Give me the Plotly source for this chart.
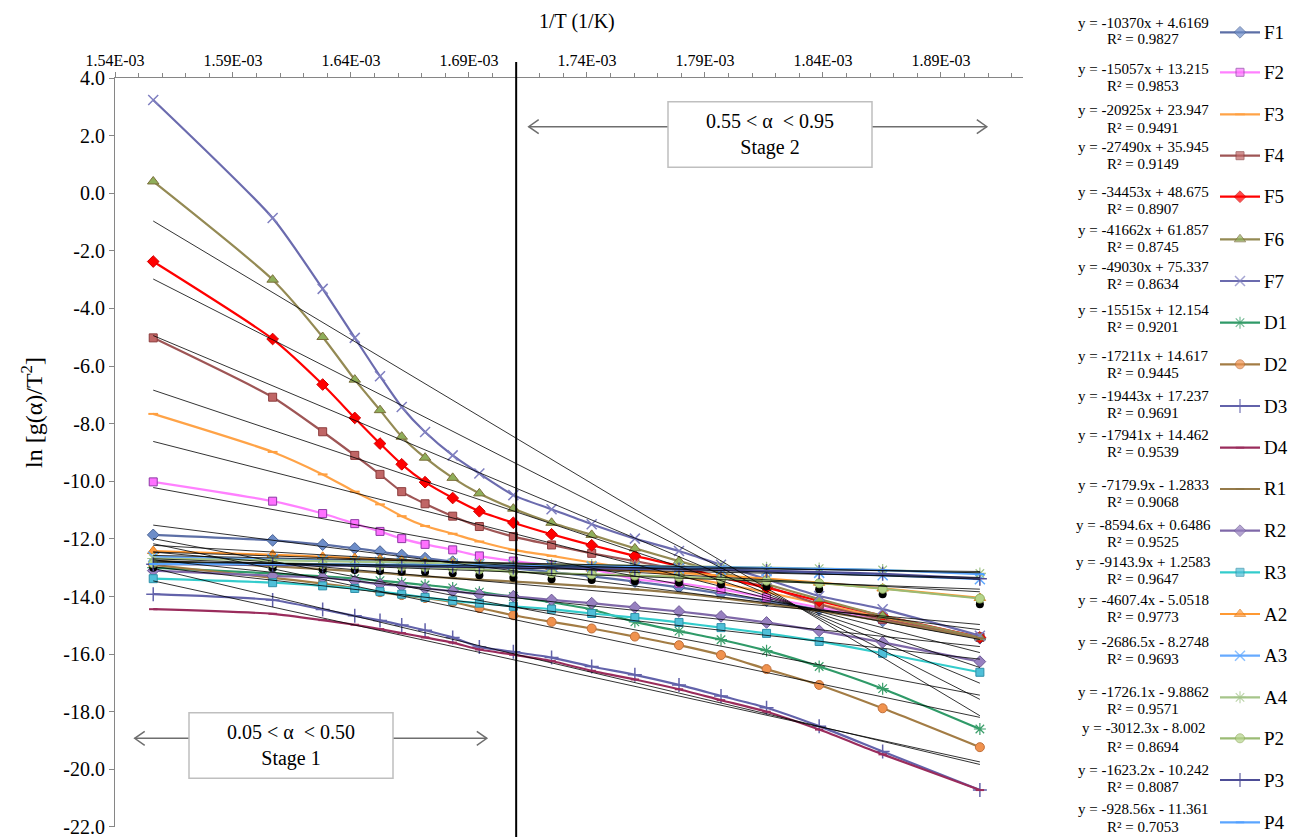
import plotly.graph_objects as go

W, H = 1299, 837

# ---------------- data ----------------
inv_T = [1.5562e-3, 1.6068e-3, 1.6280e-3, 1.6416e-3, 1.6523e-3, 1.6615e-3, 1.6714e-3,
         1.6831e-3, 1.6944e-3, 1.7088e-3, 1.7250e-3, 1.7420e-3, 1.7603e-3, 1.7790e-3,
         1.7968e-3, 1.8161e-3, 1.8384e-3, 1.8653e-3, 1.9065e-3]

F1 = [-11.86, -12.05, -12.20, -12.33, -12.44, -12.56, -12.67, -12.79, -12.90, -13.02,
      -13.15, -13.30, -13.48, -13.68, -13.90, -14.15, -14.45, -14.85, -15.45]
F2 = [-10.02, -10.69, -11.12, -11.47, -11.74, -11.99, -12.19, -12.38, -12.59, -12.77,
      -12.91, -13.05, -13.40, -13.54, -13.75, -14.03, -14.38, -14.80, -15.40]
F3 = [-7.66, -8.98, -9.76, -10.36, -10.80, -11.21, -11.55, -11.82, -12.09, -12.38,
      -12.59, -12.82, -13.05, -13.30, -13.55, -13.85, -14.25, -14.75, -15.40]
F4 = [-5.02, -7.08, -8.28, -9.10, -9.76, -10.36, -10.78, -11.21, -11.57, -11.92,
      -12.21, -12.50, -12.77, -13.06, -13.35, -13.65, -14.27, -14.79, -15.42]
F5 = [-2.37, -5.06, -6.64, -7.80, -8.69, -9.41, -10.03, -10.58, -11.04, -11.44,
      -11.84, -12.22, -12.59, -12.94, -13.34, -13.69, -14.15, -14.67, -15.42]
F6 = [0.41, -3.00, -4.99, -6.47, -7.53, -8.45, -9.18, -9.88, -10.42, -10.95,
      -11.44, -11.86, -12.33, -12.77, -13.17, -13.57, -14.09, -14.67, -15.42]
F7 = [3.24, -0.86, -3.32, -5.02, -6.35, -7.42, -8.29, -9.10, -9.73, -10.48,
      -10.97, -11.49, -11.99, -12.42, -12.90, -13.40, -13.98, -14.44, -15.36]
D1 = [-13.00, -13.20, -13.30, -13.38, -13.45, -13.52, -13.60, -13.70, -13.85, -14.00,
      -14.20, -14.45, -14.88, -15.20, -15.50, -15.88, -16.43, -17.20, -18.60]
D2 = [-12.90, -13.35, -13.55, -13.70, -13.85, -13.95, -14.05, -14.20, -14.40, -14.65,
      -14.88, -15.11, -15.39, -15.69, -16.03, -16.52, -17.07, -17.88, -19.23]
D3 = [-13.92, -14.12, -14.45, -14.67, -14.83, -14.99, -15.17, -15.42, -15.75, -15.92,
      -16.12, -16.43, -16.72, -17.07, -17.45, -17.86, -18.50, -19.38, -20.72]
D4 = [-14.44, -14.60, -14.82, -14.98, -15.13, -15.27, -15.42, -15.60, -15.84, -16.02,
      -16.24, -16.58, -16.88, -17.22, -17.60, -18.00, -18.62, -19.48, -20.72]
R1 = [-12.75, -12.95, -13.05, -13.12, -13.18, -13.24, -13.30, -13.36, -13.42, -13.48,
      -13.56, -13.65, -13.75, -13.88, -14.05, -14.25, -14.50, -14.85, -15.45]
R2 = [-13.10, -13.28, -13.34, -13.46, -13.57, -13.63, -13.72, -13.81, -13.92, -13.99,
      -14.12, -14.23, -14.38, -14.52, -14.69, -14.90, -15.19, -15.59, -16.26]
R3 = [-13.38, -13.52, -13.63, -13.72, -13.83, -13.92, -14.03, -14.15, -14.23, -14.34,
      -14.44, -14.59, -14.73, -14.90, -15.08, -15.28, -15.56, -15.97, -16.63]
A2 = [-12.42, -12.55, -12.62, -12.67, -12.71, -12.75, -12.79, -12.83, -12.87, -12.92,
      -12.97, -13.03, -13.10, -13.18, -13.27, -13.38, -13.52, -13.72, -14.05]
A3 = [-12.62, -12.70, -12.74, -12.77, -12.80, -12.82, -12.84, -12.86, -12.88, -12.90,
      -12.93, -12.96, -12.99, -13.03, -13.07, -13.12, -13.18, -13.26, -13.40]
A4 = [-12.68, -12.74, -12.77, -12.79, -12.80, -12.82, -12.83, -12.84, -12.86, -12.87,
      -12.89, -12.91, -12.93, -12.95, -12.97, -13.00, -13.03, -13.08, -13.20]
P2 = [-12.85, -12.84, -12.88, -12.90, -12.93, -12.96, -12.98, -13.01, -13.06, -13.14,
      -13.19, -13.23, -13.27, -13.32, -13.38, -13.45, -13.54, -13.73, -14.07]
P3 = [-12.88, -12.90, -12.92, -12.93, -12.94, -12.95, -12.96, -12.97, -12.98, -12.99,
      -13.00, -13.02, -13.04, -13.06, -13.08, -13.11, -13.15, -13.21, -13.38]
P4 = [-12.87, -12.87, -12.88, -12.89, -12.90, -12.90, -12.91, -12.92, -12.92, -12.93,
      -12.94, -12.95, -12.96, -12.97, -12.99, -13.01, -13.04, -13.08, -13.22]
# black markers seen just below the P2 points
P2_black = [-13.00, -13.00, -13.06, -13.08, -13.11, -13.14, -13.15, -13.19, -13.26, -13.35,
            -13.40, -13.43, -13.47, -13.52, -13.58, -13.65, -13.75, -13.92, -14.27]

names = ["F1", "F2", "F3", "F4", "F5", "F6", "F7", "D1", "D2", "D3", "D4",
         "R1", "R2", "R3", "A2", "A3", "A4", "P2", "P3", "P4"]
values = [F1, F2, F3, F4, F5, F6, F7, D1, D2, D3, D4, R1, R2, R3, A2, A3, A4, P2, P3, P4]

slopes = [-10370, -15057, -20925, -27490, -34453, -41662, -49030, -15515, -17211, -19443,
          -17941, -7179.9, -8594.6, -9143.9, -4607.4, -2686.5, -1726.1, -3012.3, -1623.2, -928.56]
intercepts = [4.6169, 13.215, 23.947, 35.945, 48.675, 61.857, 75.337, 12.154, 14.617, 17.237,
              14.462, -1.2833, 0.6486, 1.2583, -5.0518, -8.2748, -9.8862, -8.002, -10.242, -11.361]
r_squared = ["0.9827", "0.9853", "0.9491", "0.9149", "0.8907", "0.8745", "0.8634", "0.9201",
             "0.9445", "0.9691", "0.9539", "0.9068", "0.9525", "0.9647", "0.9773", "0.9693",
             "0.9571", "0.8694", "0.8087", "0.7053"]
eq_text = ["y = -10370x + 4.6169", "y = -15057x + 13.215", "y = -20925x + 23.947",
           "y = -27490x + 35.945", "y = -34453x + 48.675", "y = -41662x + 61.857",
           "y = -49030x + 75.337", "y = -15515x + 12.154", "y = -17211x + 14.617",
           "y = -19443x + 17.237", "y = -17941x + 14.462", "y = -7179.9x - 1.2833",
           "y = -8594.6x + 0.6486", "y = -9143.9x + 1.2583", "y = -4607.4x - 5.0518",
           "y = -2686.5x - 8.2748", "y = -1726.1x - 9.8862", "y = -3012.3x - 8.002",
           "y = -1623.2x - 10.242", "y = -928.56x - 11.361"]

x_tickvals = [1.54e-3, 1.59e-3, 1.64e-3, 1.69e-3, 1.74e-3, 1.79e-3, 1.84e-3, 1.89e-3]
x_ticktext = ["1.54E-03", "1.59E-03", "1.64E-03", "1.69E-03", "1.74E-03",
              "1.79E-03", "1.84E-03", "1.89E-03"]
y_tickvals = [4, 2, 0, -2, -4, -6, -8, -10, -12, -14, -16, -18, -20, -22]
y_ticktext = ["4.0", "2.0", "0.0", "-2.0", "-4.0", "-6.0", "-8.0", "-10.0", "-12.0",
              "-14.0", "-16.0", "-18.0", "-20.0", "-22.0"]
stage_boundary = 1.710e-3

# ---------------- styles ----------------
SERIF = "Liberation Serif, Times New Roman, serif"
styles = {
    "F1": dict(lc="#5C6FA6", sym="diamond", ms=9, mc="#6D8DC8", mlc="#4A6396", mlw=1),
    "F2": dict(lc="#FF80FF", sym="square", ms=8, mc="#FF70FF", mlc="#8E3AA5", mlw=1),
    "F3": dict(lc="#FFA347", sym="line-ew", ms=7, mc="#FF9F3F", mlc="#FF9F3F", mlw=2),
    "F4": dict(lc="#9E5555", sym="square", ms=8, mc="#C06666", mlc="#8C3C3C", mlw=1),
    "F5": dict(lc="#FF0000", sym="diamond", ms=9, mc="#FF0000", mlc="#D00000", mlw=1),
    "F6": dict(lc="#948A54", sym="triangle-up", ms=10, mc="#8FAE5A", mlc="#7A6E3A", mlw=1),
    "F7": dict(lc="#6B6BAE", sym="x-thin", ms=10, mc="#7F7FC0", mlc="#7F7FC0", mlw=1.5),
    "D1": dict(lc="#2F9A68", sym="asterisk", ms=10, mc="#3A9E6A", mlc="#3A9E6A", mlw=1.2),
    "D2": dict(lc="#A37C44", sym="circle", ms=9, mc="#F0924E", mlc="#C0703A", mlw=1),
    "D3": dict(lc="#6262AA", sym="cross-thin", ms=10, mc="#6262AA", mlc="#6262AA", mlw=1.5),
    "D4": dict(lc="#9A2C5C", sym="line-ew", ms=6, mc="#9A2C5C", mlc="#9A2C5C", mlw=2),
    "R1": dict(lc="#957A4A", sym="line-ew", ms=6, mc="#8C7444", mlc="#8C7444", mlw=2),
    "R2": dict(lc="#7F68A8", sym="diamond", ms=9, mc="#9780C0", mlc="#6E5A96", mlw=1),
    "R3": dict(lc="#33CCCC", sym="square", ms=8, mc="#4FBFD8", mlc="#2E8FA8", mlw=1),
    "A2": dict(lc="#FF9933", sym="triangle-up", ms=10, mc="#FF9A3C", mlc="#E07F20", mlw=1),
    "A3": dict(lc="#66AAFF", sym="x-thin", ms=10, mc="#5EA8FF", mlc="#5EA8FF", mlw=1.5),
    "A4": dict(lc="#A6C58A", sym="asterisk", ms=10, mc="#A3C48A", mlc="#A3C48A", mlw=1.2),
    "P2": dict(lc="#9BBB74", sym="circle", ms=9, mc="#B5D48A", mlc="#93B060", mlw=1),
    "P3": dict(lc="#4D4D96", sym="cross-thin", ms=10, mc="#4D4D96", mlc="#4D4D96", mlw=1.5),
    "P4": dict(lc="#5AA5FF", sym="line-ew", ms=6, mc="#4F9FFF", mlc="#4F9FFF", mlw=2),
}

# layout positions (pixels)
PLOT_L, PLOT_R, PLOT_T, PLOT_B = 115, 1023.3, 78, 827
legend_eq_y = [22.7, 69.3, 110, 146.7, 192.3, 230, 266.7, 310, 356, 396,
               435, 485, 525, 561.7, 600, 642.3, 691.7, 728.3, 770, 809.3]
legend_r2_y = [39, 86, 128.3, 164.3, 209, 247.3, 284.3, 326.7, 373.3, 413.3,
               451.7, 502.3, 542.3, 579.3, 617.3, 659.3, 709, 746.7, 786.7, 826.7]
legend_sym_y = [32.3, 72.3, 114.3, 155.7, 196.7, 239.3, 281, 322.7, 364.3, 406,
                447.7, 489, 530.7, 572.3, 614, 655.7, 697.3, 738.3, 780, 822.3]


def px(x):
    return x / W


def py(y):
    return 1 - y / H


fig = go.Figure()

# data series
for name, vals in zip(names, values):
    s = styles[name]
    if name == "P2":
        fig.add_trace(go.Scatter(
            x=inv_T, y=P2_black, mode="markers", showlegend=False, hoverinfo="skip",
            marker=dict(symbol="circle", size=8, color="black")))
    fig.add_trace(go.Scatter(
        x=inv_T, y=vals, name=name, mode="lines+markers",
        line=dict(color=s["lc"], width=2.2, shape="spline", smoothing=0.6),
        marker=dict(symbol=s["sym"], size=s["ms"], color=s["mc"],
                    line=dict(color=s["mlc"], width=s["mlw"]))))

# linear trendlines from the printed equations
for name, m, b in zip(names, slopes, intercepts):
    xs = [inv_T[0], inv_T[-1]]
    fig.add_trace(go.Scatter(
        x=xs, y=[m * xv + b for xv in xs], mode="lines", showlegend=False,
        hoverinfo="skip", line=dict(color="rgba(0,0,0,0.8)", width=1)))

# legend samples (drawn on a pixel-space overlay axis)
for i, name in enumerate(names):
    s = styles[name]
    yy = legend_sym_y[i]
    fig.add_trace(go.Scatter(
        x=[1220, 1240, 1260], y=[yy, yy, yy], xaxis="x2", yaxis="y2",
        mode="lines+markers", showlegend=False, hoverinfo="skip",
        line=dict(color=s["lc"], width=2.2),
        marker=dict(symbol=s["sym"], size=[0, s["ms"], 0], color=s["mc"],
                    line=dict(color=s["mlc"], width=s["mlw"]))))

annotations = []
for i, name in enumerate(names):
    annotations.append(dict(x=px(1143), y=py(legend_eq_y[i]), xref="paper", yref="paper",
                            text=eq_text[i], showarrow=False, xanchor="center", yanchor="middle",
                            font=dict(family=SERIF, size=15, color="black")))
    annotations.append(dict(x=px(1143), y=py(legend_r2_y[i]), xref="paper", yref="paper",
                            text="R² = " + r_squared[i], showarrow=False, xanchor="center",
                            yanchor="middle", font=dict(family=SERIF, size=15, color="black")))
    annotations.append(dict(x=px(1262), y=py(legend_sym_y[i]), xref="paper", yref="paper",
                            text=name, showarrow=False, xanchor="left", yanchor="middle",
                            font=dict(family=SERIF, size=19, color="black")))

# axis titles
annotations.append(dict(x=px(577), y=py(22), xref="paper", yref="paper", text="1/T (1/K)",
                        showarrow=False, xanchor="center", yanchor="middle",
                        font=dict(family=SERIF, size=20, color="black")))
annotations.append(dict(x=px(32), y=py(412), xref="paper", yref="paper",
                        text="ln [g(α)/T<sup>2</sup>]", textangle=-90,
                        showarrow=False, xanchor="center", yanchor="middle",
                        font=dict(family=SERIF, size=24, color="black")))

shapes = []
# stage boundary
shapes.append(dict(type="line", xref="x", yref="paper", x0=stage_boundary, x1=stage_boundary,
                   y0=0, y1=py(62), line=dict(color="black", width=2)))

ARROW_C = "#6E6E6E"


def stage_box(x0, x1, y0, y1, ay, left_tip, right_tip, text):
    shapes.append(dict(type="line", xref="paper", yref="paper", x0=px(left_tip), x1=px(x0),
                       y0=py(ay), y1=py(ay), line=dict(color=ARROW_C, width=1.5)))
    shapes.append(dict(type="line", xref="paper", yref="paper", x0=px(x1), x1=px(right_tip),
                       y0=py(ay), y1=py(ay), line=dict(color=ARROW_C, width=1.5)))
    for tip, d in ((left_tip, 1), (right_tip, -1)):
        shapes.append(dict(type="path", xref="paper", yref="paper",
                           path=f"M {px(tip + d * 10)} {py(ay - 7)} L {px(tip)} {py(ay)} L {px(tip + d * 10)} {py(ay + 7)}",
                           line=dict(color=ARROW_C, width=1.5)))
    shapes.append(dict(type="rect", xref="paper", yref="paper", x0=px(x0), x1=px(x1),
                       y0=py(y1), y1=py(y0), fillcolor="white",
                       line=dict(color="#BFBFBF", width=1.5)))
    annotations.append(dict(x=px((x0 + x1) / 2), y=py((y0 + y1) / 2), xref="paper", yref="paper",
                            text=text, showarrow=False, xanchor="center", yanchor="middle",
                            font=dict(family=SERIF, size=20, color="black")))


stage_box(668, 872, 101.7, 167.3, 126.7, 528.7, 986.8, "0.55 &lt; α  &lt; 0.95<br>Stage 2")
stage_box(189, 393, 712.7, 778.3, 738.3, 134.7, 486.8, "0.05 &lt; α  &lt; 0.50<br>Stage 1")

AX_C = "#868686"
fig.update_layout(
    width=W, height=H, margin=dict(l=0, r=0, t=0, b=0),
    paper_bgcolor="white", plot_bgcolor="rgba(0,0,0,0)", showlegend=False,
    xaxis=dict(domain=[px(PLOT_L), px(PLOT_R)], range=[1.54e-3, 1.9249e-3], side="top",
               tickvals=x_tickvals, ticktext=x_ticktext, ticks="outside", ticklen=5,
               tickcolor=AX_C, showline=True, linecolor=AX_C, linewidth=1,
               showgrid=False, zeroline=False, automargin=False,
               tickfont=dict(family=SERIF, size=16, color="black"),
               minor=dict(tick0=1.54e-3, dtick=1e-5, ticks="outside", ticklen=4,
                          tickcolor=AX_C, showgrid=False)),
    yaxis=dict(domain=[1 - PLOT_B / H, 1 - PLOT_T / H], range=[-22.002, 4.002],
               tickvals=y_tickvals, ticktext=y_ticktext, ticks="outside", ticklen=5,
               tickcolor=AX_C, showline=True, linecolor=AX_C, linewidth=1, showgrid=False,
               zeroline=False, automargin=False, ticklabeloverflow="allow",
               tickfont=dict(family=SERIF, size=20, color="black")),
    xaxis2=dict(domain=[0, 1], range=[0, W], visible=False, anchor="y2", fixedrange=True),
    yaxis2=dict(domain=[0, 1], range=[H, 0], visible=False, anchor="x2", fixedrange=True),
    annotations=annotations, shapes=shapes,
)

fig.write_html("out.html", config={"displayModeBar": False, "staticPlot": True},
               post_script="document.body.style.margin='0px';document.body.style.overflow='hidden';")
